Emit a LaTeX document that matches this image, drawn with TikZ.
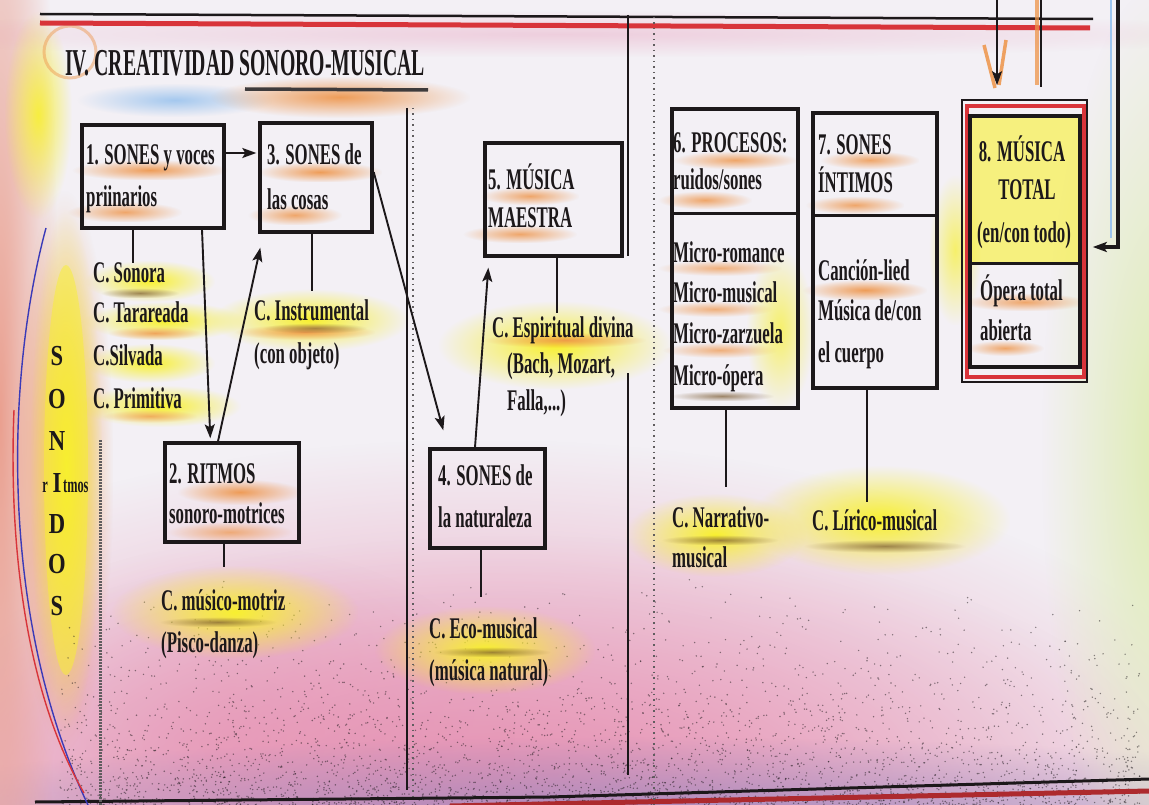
\documentclass[tikz,border=0pt]{standalone}
\usepackage{fontspec}
\newfontfamily\cond{Liberation Serif}[FakeStretch=0.56,UprightFont=* Bold]
\newfontfamily\condt{Liberation Serif}[FakeStretch=0.52,UprightFont=* Bold]
\newfontfamily\lett{Liberation Serif}[FakeStretch=0.78,UprightFont=* Bold]
\usetikzlibrary{arrows.meta,calc,fadings}
\tikzfading[name=blobf, inner color=transparent!0, outer color=transparent!100]
\definecolor{ink}{HTML}{1C181A}
\definecolor{paper}{HTML}{F3F0F5}
\definecolor{pinkb}{HTML}{E690B2}
\definecolor{purp}{HTML}{9A88C0}
\definecolor{hlyel}{HTML}{F8F030}
\definecolor{hlor}{HTML}{EE9448}
\definecolor{redl}{HTML}{D8343A}
\definecolor{bluel}{HTML}{3A3AB8}
\definecolor{greenb}{HTML}{DDECB0}
\definecolor{lblue}{HTML}{9CC4EE}
\definecolor{lpink}{HTML}{EAA090}
\definecolor{smudge}{HTML}{7A5A30}
% soft blob: colour, opacity, centre x, centre y, radius x, radius y
\newcommand\glow[6]{\fill[#1,opacity=#2,path fading=blobf] ({#3-1.3*#5},{#4-1.3*#6}) rectangle ({#3+1.3*#5},{#4+1.3*#6});}
\begin{document}
\begin{tikzpicture}[x=1pt,y=-1pt,
  txt/.style={anchor=base west, inner sep=0pt, text=ink, font=\cond\fontsize{30}{36}\selectfont},
  ctxt/.style={txt, anchor=base},
  letter/.style={anchor=base, inner sep=0pt, text=ink, font=\lett\fontsize{29}{30}\selectfont},
  small/.style={anchor=base west, inner sep=0pt, text=ink, font=\cond\fontsize{22}{24}\selectfont},
  box/.style={draw=ink, line width=3.4pt, inner sep=0pt, rectangle},
  conn/.style={draw=ink, line width=1.9pt},
  arr/.style={conn, -{Stealth[length=14pt,width=10pt,inset=3pt]}},
  vline/.style={draw=ink, line width=1.6pt},
  dotl/.style={draw=ink!70, line width=1.2pt, dash pattern=on 1.5pt off 4pt},
  divider/.style={draw=ink, line width=3pt},
]
\useasboundingbox (0,0) rectangle (1149,805);
% ---------- background ----------
\begin{scope}
\clip (0,0) rectangle (1149,805);
\fill[paper] (0,0) rectangle (1149,805);
\glow{pinkb}{1}{480}{830}{620}{300}
\glow{pinkb}{0.6}{520}{770}{500}{180}
\glow{pinkb}{0.5}{230}{740}{220}{150}
\glow{purp}{0.8}{650}{815}{650}{60}
\glow{lpink}{1}{0}{420}{45}{600}
\glow{greenb}{1}{1165}{450}{95}{360}
\glow{pinkb}{0.35}{560}{34}{560}{18}
\glow{hlyel}{0.9}{38}{115}{26}{80}
\glow{hlor}{0.8}{64}{470}{38}{215}
\glow{hlyel}{1}{66}{470}{28}{200}
\fill[hlyel,opacity=0.5] (66,470) ellipse [x radius=22, y radius=205];
\draw[hlor,opacity=0.45,line width=3pt] (70,52) circle (26);
\pgfmathsetseed{7}
\foreach \i in {1,...,3400}{%
  \pgfmathsetmacro{\xx}{60+1080*rnd}%
  \pgfmathsetmacro{\yy}{805-230*rnd*rnd}%
  \fill[ink,opacity=0.5] (\xx,\yy) circle (0.8);}
% title highlights
\glow{lblue}{0.9}{175}{100}{75}{13}
\glow{hlor}{0.9}{340}{97}{100}{16}
% box highlights
\glow{hlor}{0.9}{150}{170}{60}{8}
\glow{hlor}{0.8}{125}{212}{44}{8}
\glow{hlor}{0.9}{320}{172}{48}{8}
\glow{hlor}{0.8}{295}{215}{36}{8}
\glow{hlor}{0.8}{530}{196}{38}{7}
\glow{hlor}{0.8}{520}{234}{44}{7}
\glow{hlor}{0.8}{735}{160}{48}{7}
\glow{hlor}{0.8}{705}{200}{36}{7}
\glow{hlor}{0.7}{720}{268}{48}{6}
\glow{hlor}{0.7}{715}{309}{44}{6}
\glow{hlor}{0.7}{720}{350}{44}{6}
\glow{hlyel}{0.7}{780}{330}{26}{62}
\glow{hlor}{0.8}{870}{160}{38}{7}
\glow{hlor}{0.8}{855}{205}{38}{7}
\glow{hlor}{0.9}{865}{290}{48}{8}
\glow{hlyel}{0.7}{955}{250}{20}{58}
\glow{hlor}{0.8}{1025}{302}{48}{7}
\glow{hlor}{0.8}{1005}{348}{30}{6}
\glow{hlor}{0.9}{240}{492}{48}{10}
\glow{hlor}{0.7}{230}{532}{48}{8}
% label highlights
\glow{hlyel}{1}{150}{281}{50}{16}
\glow{hlyel}{1}{165}{321}{62}{15}
\glow{hlyel}{1}{150}{363}{50}{15}
\glow{hlyel}{1}{160}{406}{62}{16}
\glow{hlor}{0.8}{155}{333}{36}{5}
\glow{hlor}{0.7}{150}{416}{36}{5}
\glow{hlyel}{1}{310}{320}{76}{24}
\glow{hlor}{0.9}{305}{332}{54}{6}
\glow{hlyel}{1}{555}{345}{90}{34}
\glow{hlor}{0.9}{565}{340}{62}{6}
\glow{hlyel}{1}{235}{612}{95}{36}
\glow{hlyel}{1}{485}{650}{85}{34}
\glow{hlyel}{1}{715}{535}{70}{32}
\glow{hlyel}{1}{880}{520}{100}{42}
\glow{smudge}{0.7}{140}{293}{30}{4}
\glow{smudge}{0.7}{218}{622}{45}{4}
\glow{smudge}{0.7}{492}{652}{45}{4}
\glow{smudge}{0.7}{720}{540}{45}{4}
\glow{smudge}{0.7}{885}{546}{62}{5}
\glow{smudge}{0.7}{722}{396}{40}{4}
\glow{smudge}{0.6}{315}{328}{40}{4}
\end{scope}
% ---------- frame lines ----------
\draw[redl, line width=5pt] (40,23) -- (1090,28);
\draw[ink, line width=2.5pt] (40,14) -- (1093,19);
\draw[redl!80!black, line width=5pt] (450,806) -- (1149,791);
\draw[ink, line width=3pt] (35,802) -- (550,797) -- (1149,779);
\draw[bluel, line width=1.4pt] (46,228) .. controls (5,380) and (0,620) .. (88,805);
\draw[redl, line width=1.4pt] (14,410) .. controls (8,560) and (30,700) .. (84,793);
% dividers
\draw[ink!70, line width=3pt, dash pattern=on 2pt off 1pt] (100,440) -- (100,805);
\draw[vline] (407,108) -- (407,790);
\draw[dotl] (413,108) -- (413,800);
\draw[vline] (628,15) -- (628,256);
\draw[vline] (628,373) -- (628,775);
\draw[dotl] (654,17) -- (654,805);
% ---------- title ----------
\node[txt, font=\condt\fontsize{38}{40}\selectfont] (title) at (65,76) {IV. CREATIVIDAD SONORO-MUSICAL};
\draw[ink!85, line width=3.5pt] (245,89) -- (428,90);
% ---------- boxes ----------
\node[box, minimum width=142pt, minimum height=103pt] (b1) at (153,176.5) {};
\node[box, minimum width=112pt, minimum height=109pt] (b3) at (316,177.5) {};
\node[box, minimum width=137pt, minimum height=113pt] (b5) at (553.5,199.5) {};
\node[box, minimum width=126pt, minimum height=299pt] (b6) at (735,258.5) {};
\node[box, minimum width=124pt, minimum height=275pt] (b7) at (875,250.5) {};
\node[box, minimum width=134pt, minimum height=99pt] (b2) at (232,492.5) {};
\node[box, minimum width=115pt, minimum height=99pt] (b4) at (487.5,498.5) {};
\fill[hlyel, opacity=0.6] (970,116) rectangle (1080,264);
\node[box, line width=1.6pt, minimum width=125pt, minimum height=282pt] (b8o) at (1024.5,241) {};
\node[box, draw=redl, line width=4pt, minimum width=117pt, minimum height=270pt] (b8r) at (1025,241.5) {};
\node[box, minimum width=110pt, minimum height=251pt] (b8) at (1025,241.5) {};
\draw[divider] (b6.west |- 0,214) -- (b6.east |- 0,214);
\draw[divider] (b7.west |- 0,216) -- (b7.east |- 0,216);
\draw[divider] (b8.west |- 0,264) -- (b8.east |- 0,264);
% ---------- texts ----------
\node[txt] (t1a) at (86,165) {1. SONES y voces};
\node[txt] (t1b) at (86,207) {priinarios};
\node[txt] (t3a) at (267,165) {3. SONES de};
\node[txt] (t3b) at (267,210) {las cosas};
\node[txt] (sonora) at (93,283) {C. Sonora};
\node[txt] (tararea) at (93,323) {C. Tarareada};
\node[txt] (silvada) at (93,365) {C.Silvada};
\node[txt] (primit) at (93,408) {C. Primitiva};
\node[txt] (instr) at (254,320) {C. Instrumental};
\node[txt] (instrb) at (254,363) {(con objeto)};
\node[txt] (t5a) at (488,190) {5. MÚSICA};
\node[txt] (t5b) at (488,228) {MAESTRA};
\node[txt] (esp) at (492,337) {C. Espiritual divina};
\node[txt] (espb) at (507,373) {(Bach, Mozart,};
\node[txt] (espc) at (507,410) {Falla,...)};
\node[txt] (t6a) at (673,153) {6. PROCESOS:};
\node[txt] (t6b) at (673,190) {ruidos/sones};
\node[txt] (t6c) at (673,262) {Micro-romance};
\node[txt] (t6d) at (673,302) {Micro-musical};
\node[txt] (t6e) at (673,343) {Micro-zarzuela};
\node[txt] (t6f) at (673,385) {Micro-ópera};
\node[txt] (t7a) at (818,155) {7. SONES};
\node[txt] (t7b) at (818,193) {ÍNTIMOS};
\node[txt] (t7c) at (818,280) {Canción-lied};
\node[txt] (t7d) at (818,320) {Música de/con};
\node[txt] (t7e) at (818,362) {el cuerpo};
\node[ctxt] (t8a) at (1022,162) {8. MÚSICA};
\node[ctxt] (t8b) at (1027,200) {TOTAL};
\node[ctxt] (t8c) at (1024,243) {(en/con todo)};
\node[txt] (t8d) at (980,300) {Ópera total};
\node[txt] (t8e) at (980,340) {abierta};
\node[txt] (t2a) at (169,483) {2. RITMOS};
\node[txt] (t2b) at (169,523) {sonoro-motrices};
\node[txt] (motriz) at (161,610) {C. músico-motriz};
\node[txt] (motrizb) at (161,652) {(Pisco-danza)};
\node[txt] (t4a) at (438,485) {4. SONES de};
\node[txt] (t4b) at (438,527) {la naturaleza};
\node[txt] (eco) at (429,638) {C. Eco-musical};
\node[txt] (ecob) at (429,680) {(música natural)};
\node[txt] (narr) at (672,527) {C. Narrativo-};
\node[txt] (narrb) at (672,567) {musical};
\node[txt] (lirico) at (812,530) {C. Lírico-musical};
% SONIDOS
\node[letter] (s1) at (57,365) {S};
\node[letter] (s2) at (57,408) {O};
\node[letter] (s3) at (57,450) {N};
\node[small, anchor=base east] (sr) at (48,492) {r};
\node[letter] (s4) at (57,492) {I};
\node[small] (stmos) at (63,492) {tmos};
\node[letter] (s5) at (57,533) {D};
\node[letter] (s6) at (57,573) {O};
\node[letter] (s7) at (57,615) {S};
% ---------- connectors ----------
\draw[arr] ($(b1.east)+(0,-23.5)$) -- ($(b3.west)+(-2,-24.5)$);
\draw[arr] ($(b1.south)+(49,0)$) -- ($(b2.north west)+(47,-3)$);
\draw[arr] ($(b2.north)+(-14,0)$) -- ($(b3.south west)+(2,14)$);
\draw[arr] ($(b3.east)+(0,-5.5)$) -- ($(b4.north west)+(15,-17)$);
\draw[arr] ($(b4.north)+(-12.5,0)$) -- ($(b5.south west)+(5,10)$);
\coordinate (c1) at ($(b1.south)+(-20,0)$);
\coordinate (c3) at ($(b3.south)+(-4,0)$);
\coordinate (c5) at ($(b5.south)+(3.5,0)$);
\coordinate (c2) at ($(b2.south)+(-8,0)$);
\coordinate (c4) at ($(b4.south)+(-6.5,0)$);
\coordinate (c6) at ($(b6.south)+(-9,0)$);
\coordinate (c7) at ($(b7.south)+(-8,0)$);
\draw[conn] (c1) -- (c1 |- sonora.north);
\draw[conn, shorten >=8pt] (c3) -- (c3 |- instr.north);
\draw[conn, shorten >=3pt] (c5) -- (c5 |- esp.north);
\draw[conn, shorten >=22pt] (c2) -- (c2 |- motriz.north);
\draw[conn, shorten >=20pt] (c4) -- (c4 |- eco.north);
\draw[conn, shorten >=19pt] (c6) -- (c6 |- narr.north);
\draw[conn, shorten >=7pt] (c7) -- (c7 |- lirico.north);
% top right arrows
\coordinate (topA) at (997,0);
\coordinate (topB) at (1041,0);
\coordinate (topC) at (1118,0);
\draw[hlor, line width=3.5pt, opacity=0.85] (984,45) -- (995,88);
\draw[hlor, line width=3.5pt, opacity=0.85] (1006,40) -- (999,85);
\draw[hlor, line width=3.5pt, opacity=0.75] (1037,0) -- (1037,85);
\draw[lblue, line width=2.5pt] (1111,0) -- (1111,238);
\draw[arr, shorten >=14pt] (topA) -- (topA |- b8o.north);
\draw[conn, shorten >=12pt] (topB) -- (topB |- b8o.north);
\draw[arr, line width=3.5pt, shorten >=5pt] (topC) |- ($(b8o.east)+(0,6)$);
\end{tikzpicture}
\end{document}
